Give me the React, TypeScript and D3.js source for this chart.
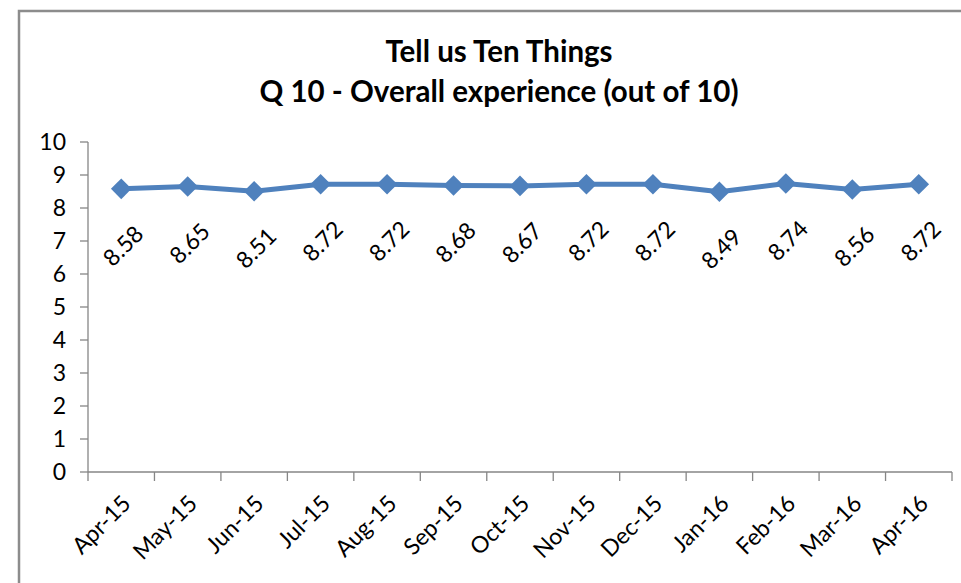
import React from "react";
import * as d3 from "d3";

const months = ["Apr-15","May-15","Jun-15","Jul-15","Aug-15","Sep-15","Oct-15","Nov-15","Dec-15","Jan-16","Feb-16","Mar-16","Apr-16"];
const scores = [8.58,8.65,8.51,8.72,8.72,8.68,8.67,8.72,8.72,8.49,8.74,8.56,8.72];
const yTicks = [0,1,2,3,4,5,6,7,8,9,10];
const titleLines = ["Tell us Ten Things", "Q 10 - Overall experience (out of 10)"];

const W = 961, H = 583;
const font = "Lato, 'Open Sans', sans-serif";

export default function App() {
  const x = d3.scaleBand<string>().domain(months).range([88, 952]);
  const y = d3.scaleLinear().domain([0, 10]).range([472, 142]);
  const cx = (m: string) => (x(m) as number) + x.bandwidth() / 2;
  const line = d3.line<number>().x((_, i) => cx(months[i])).y(d => y(d));
  const diamond = d3.symbol().type(d3.symbolDiamond2).size(270)();
  const blue = "#4F81BD";
  return (
    <svg width={W} height={H} style={{ position: "absolute", left: 0, top: 0, background: "#fff" }}>
      <rect x={0} y={0} width={W} height={H} fill="#fff" />
      <path d={`M19,${H} L19,11 L${W},11`} fill="none" stroke="#8c8c8c" strokeWidth={2.5} />
      {titleLines.map((t, i) => (
        <text key={t} x={499} y={62 + i * 40} textAnchor="middle" fontFamily={font} fontWeight="bold" fontSize={29.5} fill="#000">{t}</text>
      ))}
      {/* y axis */}
      <line x1={88} x2={88} y1={y(10)} y2={y(0)} stroke="#868686" strokeWidth={1.3} />
      {yTicks.map(t => (
        <g key={t}>
          <line x1={80} x2={88} y1={y(t)} y2={y(t)} stroke="#868686" strokeWidth={1.3} />
          <text x={66} y={y(t)} dy="0.36em" textAnchor="end" fontFamily={font} fontSize={23} fill="#000">{t}</text>
        </g>
      ))}
      {/* x axis */}
      <line x1={88} x2={952} y1={y(0)} y2={y(0)} stroke="#868686" strokeWidth={1.3} />
      {[...months.map(m => x(m) as number), 952].map((v, i) => (
        <line key={i} x1={v} x2={v} y1={y(0)} y2={y(0) + 9} stroke="#868686" strokeWidth={1.3} />
      ))}
      {months.map(m => (
        <text key={m} transform={`translate(${cx(m) + 11},${y(0) + 33}) rotate(-45)`} textAnchor="end" fontFamily={font} fontSize={23} fill="#000">{m}</text>
      ))}
      <path d={line(scores) || ""} fill="none" stroke={blue} strokeWidth={5} strokeLinejoin="round" />
      {scores.map((v, i) => (
        <path key={i} d={diamond || ""} transform={`translate(${cx(months[i])},${y(v)})`} fill={blue} />
      ))}
      {scores.map((v, i) => (
        <text key={i} transform={`translate(${cx(months[i]) + 2},${y(v) + 57}) rotate(-45)`} textAnchor="middle" dy="0.35em" fontFamily={font} fontSize={23} fill="#000">{v.toFixed(2)}</text>
      ))}
    </svg>
  );
}
